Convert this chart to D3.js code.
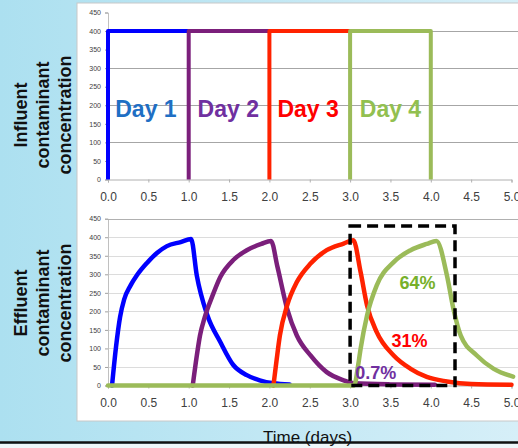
<!DOCTYPE html>
<html lang="en">
<head>
<meta charset="UTF-8">
<script src="https://d3js.org/d3.v7.min.js"></script>
<style>
  body { margin: 0; overflow: hidden; }
  svg { display: block; font-family: Arial, "Liberation Sans", sans-serif; }
  .tick text { fill: #404040; }
</style>
</head>
<body>
<div id="chart"></div>
<script>
// Data
const days = ["Day 1", "Day 2", "Day 3", "Day 4"];
const dayColors = ["#0000ff", "#7b1f7b", "#ff2200", "#9bbb59"];
const dayTextColors = ["#1f6fc4", "#7030a0", "#ff0000", "#92c050"];

// Influent steps (time in days, concentration)
const influentT = [[0, 0, 1], [1, 1, 2], [2, 2, 3], [3, 3, 4, 4]];
const influentC = [[0, 400, 400], [0, 400, 400], [0, 400, 400], [0, 400, 400, 0]];

// Effluent curves
const effluentT = [
  [0.05, 0.1, 0.15, 0.2, 0.28, 0.36, 0.48, 0.61, 0.73, 0.9, 1.03, 1.1, 1.23, 1.39, 1.55, 1.72, 1.88, 2.05, 2.25],
  [1.05, 1.1, 1.14, 1.2, 1.3, 1.39, 1.56, 1.72, 1.9, 2.02, 2.1, 2.22, 2.34, 2.51, 2.71, 2.92, 3.05, 3.5, 4.05],
  [2.05, 2.09, 2.13, 2.22, 2.34, 2.51, 2.71, 2.92, 3.04, 3.13, 3.21, 3.33, 3.54, 3.75, 3.95, 4.2, 4.5, 5.0],
  [0, 3.05, 3.1, 3.13, 3.21, 3.33, 3.54, 3.75, 3.95, 4.07, 4.2, 4.28, 4.37, 4.57, 4.78, 5.02]
];
const effluentC = [
  [0, 105, 185, 232, 270, 298, 330, 358, 376, 387, 395, 297, 190, 118, 56, 28, 14, 6, 3],
  [0, 80, 135, 185, 245, 292, 340, 365, 382, 390, 320, 207, 135, 81, 36, 14, 6, 3, 2],
  [0, 70, 135, 216, 279, 329, 365, 383, 392, 306, 216, 144, 81, 45, 23, 11, 4, 2],
  [0, 0, 55, 99, 189, 270, 333, 365, 382, 390, 297, 207, 135, 81, 45, 24]
];

const percentLabels = ["0.7%", "31%", "64%"];
const percentAt = [[3.05, 18], [3.5, 103], [3.6, 260]];
const percentColors = ["#7030a0", "#ff0000", "#77b02a"];

const boxX = [3.0, 4.3];
const boxY = [0, 430];

const xTicks = [0, 0.5, 1, 1.5, 2, 2.5, 3, 3.5, 4, 4.5, 5];
const yTicks = [0, 50, 100, 150, 200, 250, 300, 350, 400, 450];

const width = 518, height = 448;

const svg = d3.select("#chart").append("svg")
  .attr("width", width)
  .attr("height", height);

// Background
const defs = svg.append("defs");
const bg = defs.append("linearGradient").attr("id", "bg")
  .attr("x1", "0%").attr("y1", "0%").attr("x2", "100%").attr("y2", "0%");
bg.append("stop").attr("offset", "0%").attr("stop-color", "#ace0f0");
bg.append("stop").attr("offset", "100%").attr("stop-color", "#d6eff8");

svg.append("rect").attr("width", width).attr("height", height).attr("fill", "url(#bg)");

// white panel
svg.append("rect")
  .attr("x", 77).attr("y", 3)
  .attr("width", width - 77 + 2).attr("height", 418)
  .attr("fill", "#ffffff")
  .attr("stroke", "#c8c8c8")
  .attr("stroke-width", 1);

// bottom rule and strip
svg.append("rect").attr("x", 0).attr("y", 444).attr("width", width).attr("height", 4).attr("fill", "#eef7fa");
svg.append("line")
  .attr("x1", 0).attr("x2", width).attr("y1", 442.5).attr("y2", 442.5)
  .attr("stroke", "#111").attr("stroke-width", 2.5);

svg.append("text")
  .attr("x", 263).attr("y", 443)
  .style("font-size", "17px")
  .attr("fill", "#111")
  .text("Time (days)");

// Scales
const x = d3.scaleLinear().domain([0, 5]).range([108, 511.5]);
const yTop = d3.scaleLinear().domain([0, 450]).range([179.5, 12.5]);
const yBot = d3.scaleLinear().domain([0, 450]).range([385.5, 218.7]);

function drawAxes(y, gridTicks, gridColor, labelY) {
  const g = svg.append("g");
  // grid
  g.selectAll(".grid").data(gridTicks).enter().append("line")
    .attr("x1", x(0)).attr("x2", width)
    .attr("y1", d => Math.round(y(d)) + 0.5).attr("y2", d => Math.round(y(d)) + 0.5)
    .attr("stroke", gridColor).attr("stroke-width", 1);

  // y axis
  const yAxis = svg.append("g")
    .attr("transform", `translate(${x(0)},0)`)
    .call(d3.axisLeft(y).tickValues(yTicks).tickSize(3).tickPadding(4));
  yAxis.select(".domain").attr("stroke", "#c0c0c0");
  yAxis.selectAll(".tick line").attr("stroke", "#a0a0a0");
  yAxis.selectAll(".tick text").style("font-size", "7px").attr("fill", "#555");

  // x axis
  const xAxis = svg.append("g")
    .attr("transform", `translate(0,${y(0)})`)
    .call(d3.axisBottom(x).tickValues(xTicks).tickSize(3).tickPadding(labelY).tickFormat(d3.format(".1f")));
  xAxis.select(".domain").attr("stroke", "#b0b0b0");
  xAxis.selectAll(".tick line").attr("stroke", "#b0b0b0");
  xAxis.selectAll(".tick text").style("font-size", "12px").attr("fill", "#404040");
}

drawAxes(yTop, [100, 200, 300, 400], "#a6a6a6", 10);
drawAxes(yBot, [50, 100, 150, 200, 250, 300, 350, 400, 450], "#dcdcdc", 10);
// stronger top gridline on effluent plot
svg.append("line")
  .attr("x1", x(0)).attr("x2", width)
  .attr("y1", Math.round(yBot(450)) + 0.5).attr("y2", Math.round(yBot(450)) + 0.5)
  .attr("stroke", "#b0b0b0");

// Influent steps
const lineTop = d3.line().x(d => x(d[0])).y(d => yTop(d[1]));
influentT.forEach((ts, i) => {
  svg.append("path")
    .datum(ts.map((t, j) => [t, influentC[i][j]]))
    .attr("d", lineTop)
    .attr("fill", "none")
    .attr("stroke", dayColors[i])
    .attr("stroke-width", 4)
    .attr("stroke-linejoin", "round");
});

// Day labels
const dayX = [0.09, 1.11, 2.1, 3.12];
svg.selectAll(".day").data(days).enter().append("text")
  .attr("x", (d, i) => x(dayX[i]))
  .attr("y", 117)
  .attr("fill", (d, i) => dayTextColors[i])
  .style("font-size", "23px")
  .style("font-weight", "bold")
  .text(d => d);

// Effluent curves
const lineBot = d3.line().x(d => x(d[0])).y(d => yBot(d[1])).curve(d3.curveMonotoneX);
effluentT.forEach((ts, i) => {
  svg.append("path")
    .datum(ts.map((t, j) => [t, effluentC[i][j]]))
    .attr("d", lineBot)
    .attr("fill", "none")
    .attr("stroke", dayColors[i])
    .attr("stroke-width", 4.5)
    .attr("stroke-linejoin", "round")
    .attr("stroke-linecap", "round");
});

// Dashed box
svg.append("rect")
  .attr("x", x(boxX[0])).attr("y", yBot(boxY[1]))
  .attr("width", x(boxX[1]) - x(boxX[0]))
  .attr("height", yBot(boxY[0]) - yBot(boxY[1]))
  .attr("fill", "none")
  .attr("stroke", "#000")
  .attr("stroke-width", 3.5)
  .attr("stroke-dasharray", "11,6");

// Percent labels
svg.selectAll(".pct").data(percentLabels).enter().append("text")
  .attr("x", (d, i) => x(percentAt[i][0]) + 1)
  .attr("y", (d, i) => yBot(percentAt[i][1]))
  .attr("fill", (d, i) => percentColors[i])
  .style("font-size", "18px")
  .style("font-weight", "bold")
  .text(d => d);

// Y titles
function yTitle(lines, cy) {
  const t = svg.append("text")
    .attr("transform", `translate(27,${cy}) rotate(-90)`)
    .attr("text-anchor", "middle")
    .style("font-size", "18px")
    .style("font-weight", "bold")
    .attr("fill", "#111");
  lines.forEach((l, i) => {
    t.append("tspan").attr("x", 0).attr("y", i * 22).text(l);
  });
}
yTitle(["Influent", "contaminant", "concentration"], 115);
yTitle(["Effluent", "contaminant", "concentration"], 303);
</script>
</body>
</html>
